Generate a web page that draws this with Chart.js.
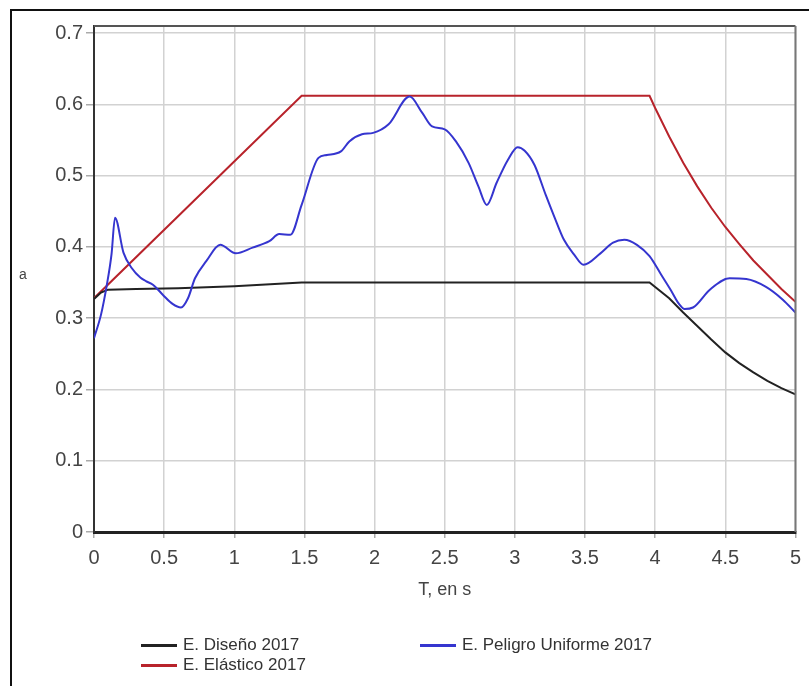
<!DOCTYPE html>
<html>
<head>
<meta charset="utf-8">
<title>Espectros 2017</title>
<script src="https://cdn.jsdelivr.net/npm/chart.js@4.4.1/dist/chart.umd.min.js"></script>
<style>
  html, body { margin: 0; padding: 0; background: #fff; }
  #wrap { position: relative; width: 809px; height: 686px; overflow: hidden; font-family: "Liberation Sans", Arial, sans-serif; }
  #chart { position: absolute; left: 0; top: 0; }
  #frame { position: absolute; left: 10px; top: 9px; right: -4px; bottom: -4px; border-left: 2px solid #111; border-top: 2px solid #111; pointer-events: none; }
  #ylabel { position: absolute; left: 19px; top: 266px; font-size: 14px; color: #444; }
  #legend { position: absolute; left: 141px; top: 635px; display: grid; grid-template-columns: 279px 300px; grid-auto-rows: 20px; }
  .item { display: flex; align-items: center; font-size: 17px; color: #333; white-space: nowrap; }
  .swatch { width: 36px; height: 3px; margin-right: 6px; }
</style>
</head>
<body>
<div id="wrap">
  <canvas id="chart" width="809" height="686"></canvas>
  <div id="frame"></div>
  <div id="ylabel">a</div>
  <div id="legend"></div>
</div>
<script>
// Periods T (s) and spectral ordinates a for each spectrum
const disenoT = [0, 0.05, 0.1, 0.3, 0.6, 1.0, 1.48, 3.96, 4.1, 4.2, 4.3, 4.4, 4.5, 4.6, 4.7, 4.8, 4.9, 5.0];
const disenoA = [0.327, 0.336, 0.340, 0.341, 0.342, 0.345, 0.350, 0.350, 0.328, 0.308, 0.289, 0.270, 0.252, 0.237, 0.224, 0.212, 0.202, 0.193];

const elasticoT = [0, 1.48, 3.96, 4.0, 4.1, 4.2, 4.3, 4.4, 4.5, 4.6, 4.7, 4.8, 4.9, 5.0];
const elasticoA = [0.328, 0.612, 0.612, 0.595, 0.555, 0.518, 0.485, 0.455, 0.428, 0.404, 0.381, 0.361, 0.341, 0.323];

const peligroT = [0, 0.05, 0.09, 0.125, 0.15, 0.21, 0.27, 0.33, 0.37, 0.42, 0.49, 0.56, 0.62, 0.67, 0.72, 0.80, 0.90,
  1.01, 1.13, 1.25, 1.32, 1.40, 1.48, 1.60, 1.66, 1.76, 1.82, 1.91, 1.99, 2.10, 2.25, 2.34, 2.41, 2.50, 2.58, 2.67,
  2.74, 2.80, 2.87, 2.95, 3.02, 3.07, 3.14, 3.22, 3.28, 3.35, 3.42, 3.49, 3.61, 3.70, 3.78, 3.87, 3.96, 4.04, 4.11,
  4.17, 4.21, 4.27, 4.39, 4.53, 4.65, 4.79, 4.91, 5.0];
const peligroA = [0.272, 0.305, 0.345, 0.390, 0.441, 0.392, 0.370, 0.357, 0.352, 0.347, 0.333, 0.320, 0.315, 0.328, 0.356, 0.380, 0.403,
  0.391, 0.399, 0.408, 0.418, 0.417, 0.459, 0.525, 0.529, 0.534, 0.548, 0.558, 0.560, 0.572, 0.611, 0.588, 0.569, 0.565, 0.548, 0.518,
  0.485, 0.459, 0.490, 0.522, 0.540, 0.535, 0.515, 0.473, 0.443, 0.410, 0.390, 0.375, 0.391, 0.406, 0.410, 0.403, 0.387, 0.362, 0.340,
  0.320, 0.313, 0.315, 0.340, 0.356, 0.355, 0.344, 0.326, 0.308];

// Axis ticks
const xTicks = [0, 0.5, 1, 1.5, 2, 2.5, 3, 3.5, 4, 4.5, 5];
const xTickLabels = ['0', '0.5', '1', '1.5', '2', '2.5', '3', '3.5', '4', '4.5', '5'];
const yTicks = [0, 0.1, 0.2, 0.3, 0.4, 0.5, 0.6, 0.7];
const yTickLabels = ['0', '0.1', '0.2', '0.3', '0.4', '0.5', '0.6', '0.7'];

const seriesNames = ['E. Diseño 2017', 'E. Peligro Uniforme 2017', 'E. Elástico 2017'];

const toPoints = (ts, as) => ts.map((t, i) => ({ x: t, y: as[i] }));

const FONT = '"Liberation Sans", Arial, sans-serif';

// Top and right edges of the plot box
const boxEdges = {
  id: 'boxEdges',
  afterDraw(chart) {
    const { ctx, chartArea: a } = chart;
    ctx.save();
    ctx.lineWidth = 2;
    ctx.strokeStyle = '#555';
    ctx.beginPath();
    ctx.moveTo(a.left, a.top);
    ctx.lineTo(a.right, a.top);
    ctx.stroke();
    ctx.strokeStyle = '#777';
    ctx.beginPath();
    ctx.moveTo(a.right, a.top);
    ctx.lineTo(a.right, a.bottom);
    ctx.stroke();
    ctx.restore();
  }
};

const chart = new Chart(document.getElementById('chart'), {
  type: 'line',
  data: {
    datasets: [
      { label: seriesNames[1], data: toPoints(peligroT, peligroA), borderColor: '#3535cf', borderWidth: 2,
        pointRadius: 0, cubicInterpolationMode: 'monotone' },
      { label: seriesNames[0], data: toPoints(disenoT, disenoA), borderColor: '#222222', borderWidth: 2,
        pointRadius: 0, tension: 0 },
      { label: seriesNames[2], data: toPoints(elasticoT, elasticoA), borderColor: '#b8232b', borderWidth: 2,
        pointRadius: 0, tension: 0 }
    ]
  },
  options: {
    responsive: false,
    animation: false,
    devicePixelRatio: 1,
    layout: { padding: { top: 26, right: 10, left: 0, bottom: 0 } },
    plugins: { legend: { display: false }, tooltip: { enabled: false } },
    scales: {
      x: {
        type: 'linear', min: 0, max: 5,
        afterBuildTicks: s => { s.ticks = xTicks.map(v => ({ value: v })); },
        afterFit: s => { s.height = 154; },
        ticks: {
          font: { family: FONT, size: 20 }, color: '#444', padding: 8, maxRotation: 0,
          callback: v => xTickLabels[xTicks.indexOf(v)]
        },
        grid: { color: '#d2d2d2', lineWidth: 1.5, tickLength: 6, tickColor: '#aaa' },
        border: { color: '#222', width: 3 },
        title: { display: true, text: 'T, en s', font: { family: FONT, size: 18 }, color: '#444',
          padding: { top: 0, bottom: 85 } }
      },
      y: {
        type: 'linear', min: 0, max: 0.71,
        afterBuildTicks: s => { s.ticks = yTicks.map(v => ({ value: v })); },
        afterFit: s => { s.width = 94; },
        ticks: {
          font: { family: FONT, size: 20 }, color: '#444', padding: 3,
          callback: v => yTickLabels[yTicks.indexOf(v)]
        },
        grid: { color: '#d2d2d2', lineWidth: 1.5, tickLength: 8, tickColor: '#aaa' },
        border: { color: '#333', width: 2 }
      }
    }
  },
  plugins: [boxEdges]
});

// Legend built from the datasets, in the order E. Diseño, E. Peligro Uniforme, E. Elástico
const legend = document.getElementById('legend');
seriesNames.forEach(name => {
  const ds = chart.data.datasets.find(d => d.label === name);
  const item = document.createElement('div');
  item.className = 'item';
  const sw = document.createElement('span');
  sw.className = 'swatch';
  sw.style.background = ds.borderColor;
  const tx = document.createElement('span');
  tx.textContent = ds.label;
  item.appendChild(sw);
  item.appendChild(tx);
  legend.appendChild(item);
});
</script>
</body>
</html>
